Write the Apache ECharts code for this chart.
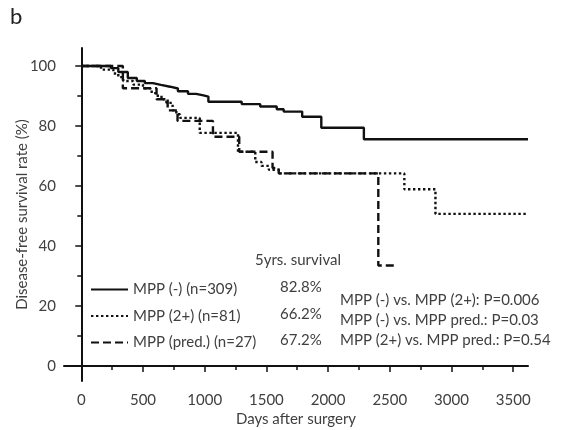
<html lang="en">
<head>
    <meta charset="UTF-8">
    <script src="https://cdn.jsdelivr.net/npm/echarts@6/dist/echarts.min.js"></script>
    <title>Disease-free survival</title>
    <style>
      body { margin: 0; background: #fff; }
    </style>
</head>
<body>

<div id="main" style="width: 567px;height:430px;"></div>

<script>
  // Kaplan-Meier curves: [days, survival %]
  var mppNegDays  = [0, 240, 300, 377, 450, 515, 580, 645, 720, 783, 865, 930, 990, 1030, 1300, 1450, 1584, 1640, 1790, 1945, 2290, 3620];
  var mppNegRate  = [100, 99.3, 98, 96, 95, 94.3, 93.7, 93.1, 92.5, 91.6, 90.7, 90.2, 89.8, 88.1, 87.3, 86.5, 85.6, 84.8, 83.1, 79.4, 75.6, 75.6];

  var mpp2Days    = [0, 160, 260, 300, 340, 420, 500, 560, 600, 650, 690, 740, 770, 800, 960, 1270, 1410, 1460, 1520, 1600, 2618, 2870, 3620];
  var mpp2Rate    = [100, 98.8, 97.5, 96.3, 95, 93.8, 92.6, 91.4, 90.1, 88.9, 87.7, 85.2, 83.9, 82.7, 77.7, 71.4, 68, 66.7, 65.4, 64.2, 58.9, 50.7, 50.7];

  var mppPredDays = [0, 337, 610, 700, 780, 1067, 1280, 1550, 1600, 2407, 2545];
  var mppPredRate = [100, 92.6, 88.9, 85.2, 81.7, 76.4, 71.4, 66, 64.2, 33.5, 33.5];

  var seriesNames = ['MPP (-) (n=309)', 'MPP (2+) (n=81)', 'MPP (pred.) (n=27)'];
  var fiveYear    = ['82.8%', '66.2%', '67.2%'];
  var pValues     = ['MPP (-) vs. MPP (2+): P=0.006', 'MPP (-) vs. MPP pred.: P=0.03', 'MPP (2+) vs. MPP pred.: P=0.54'];

  var xMajor = [0, 500, 1000, 1500, 2000, 2500, 3000, 3500];
  var xMinor = [250, 750, 1250, 1750, 2250, 2750, 3250];
  var yMajor = [0, 20, 40, 60, 80, 100];
  var yMinor = [10, 30, 50, 70, 90];

  function pairs(xs, ys) {
    return xs.map(function (x, i) { return [x, ys[i]]; });
  }

  var font = 'Lato';
  var textCol = '#404040';
  var ink = '#111';
  var gridBox = { left: 64, right: 39, top: 48, bottom: 49, outerBoundsMode: 'none' };

  var myChart = echarts.init(document.getElementById('main'));

  var lineDefaults = function (name, data, dash) {
    return {
      name: name,
      type: 'line',
      step: 'end',
      showSymbol: false,
      symbol: 'none',
      data: data,
      lineStyle: { color: ink, width: 2.4, type: dash },
      itemStyle: { color: ink }
    };
  };

  // axis on the twin grid, only draws the short minor ticks
  function minorAxis(min, max, position, ticks) {
    return {
      type: 'value',
      gridIndex: 1,
      min: min,
      max: max,
      position: position,
      axisLine: { show: true, lineStyle: { color: 'rgba(0,0,0,0)' } },
      axisTick: { show: true, customValues: ticks, length: 4, lineStyle: { color: ink, width: 1.5 } },
      axisLabel: { show: true, customValues: ticks, color: 'rgba(0,0,0,0)', fontSize: 8 },
      splitLine: { show: false }
    };
  }

  var graphics = [
    { type: 'text', left: 10, top: 6, style: { text: 'b', font: '22px ' + font, fill: '#222' } },
    { type: 'text', left: 255, top: 253, style: { text: '5yrs. survival', font: '15px ' + font, fill: textCol } }
  ];
  fiveYear.forEach(function (t, i) {
    graphics.push({ type: 'text', left: 280, top: 280 + i * 26.5, style: { text: t, font: '15px ' + font, fill: textCol } });
  });
  pValues.forEach(function (t, i) {
    graphics.push({ type: 'text', left: 340, top: 293 + i * 20, style: { text: t, font: '15px ' + font, fill: textCol } });
  });

  var plain = function (v) { return String(v); };

  var option = {
    animation: false,
    textStyle: { fontFamily: font },
    grid: [gridBox, Object.assign({}, gridBox)],
    legend: {
      orient: 'vertical',
      left: 90,
      top: 282,
      padding: 0,
      itemWidth: 37,
      itemHeight: 14,
      itemGap: 11.5,
      itemStyle: { opacity: 0 },
      textStyle: { fontSize: 15, color: textCol, fontFamily: font },
      data: seriesNames
    },
    xAxis: [{
      type: 'value',
      gridIndex: 0,
      min: -140,
      max: 3620,
      name: 'Days after surgery',
      nameLocation: 'middle',
      nameGap: 31,
      nameMoveOverlap: false,
      nameTextStyle: { fontSize: 15, color: textCol },
      axisLine: { lineStyle: { color: ink, width: 2 } },
      axisTick: { customValues: xMajor, length: 6, lineStyle: { color: ink, width: 1.5 } },
      axisLabel: { customValues: xMajor, fontSize: 15, color: textCol, margin: 12, formatter: plain },
      splitLine: { show: false }
    }, minorAxis(-140, 3620, 'bottom', xMinor)],
    yAxis: [{
      type: 'value',
      gridIndex: 0,
      min: -5,
      max: 106,
      name: 'Disease-free survival rate (%)',
      nameLocation: 'middle',
      nameGap: 34,
      nameMoveOverlap: false,
      nameTextStyle: { fontSize: 15, color: textCol },
      axisLine: { show: true, lineStyle: { color: ink, width: 2 } },
      axisTick: { show: true, customValues: yMajor, length: 6, lineStyle: { color: ink, width: 1.5 } },
      axisLabel: { customValues: yMajor, fontSize: 15, color: textCol, margin: 8, formatter: plain },
      splitLine: { show: false }
    }, minorAxis(-5, 106, 'left', yMinor)],
    graphic: graphics,
    series: [
      lineDefaults(seriesNames[0], pairs(mppNegDays, mppNegRate), 'solid'),
      lineDefaults(seriesNames[1], pairs(mpp2Days, mpp2Rate), [2.4, 2.6]),
      lineDefaults(seriesNames[2], pairs(mppPredDays, mppPredRate), [8, 4])
    ]
  };

  myChart.setOption(option);
</script>

</body>
</html>
